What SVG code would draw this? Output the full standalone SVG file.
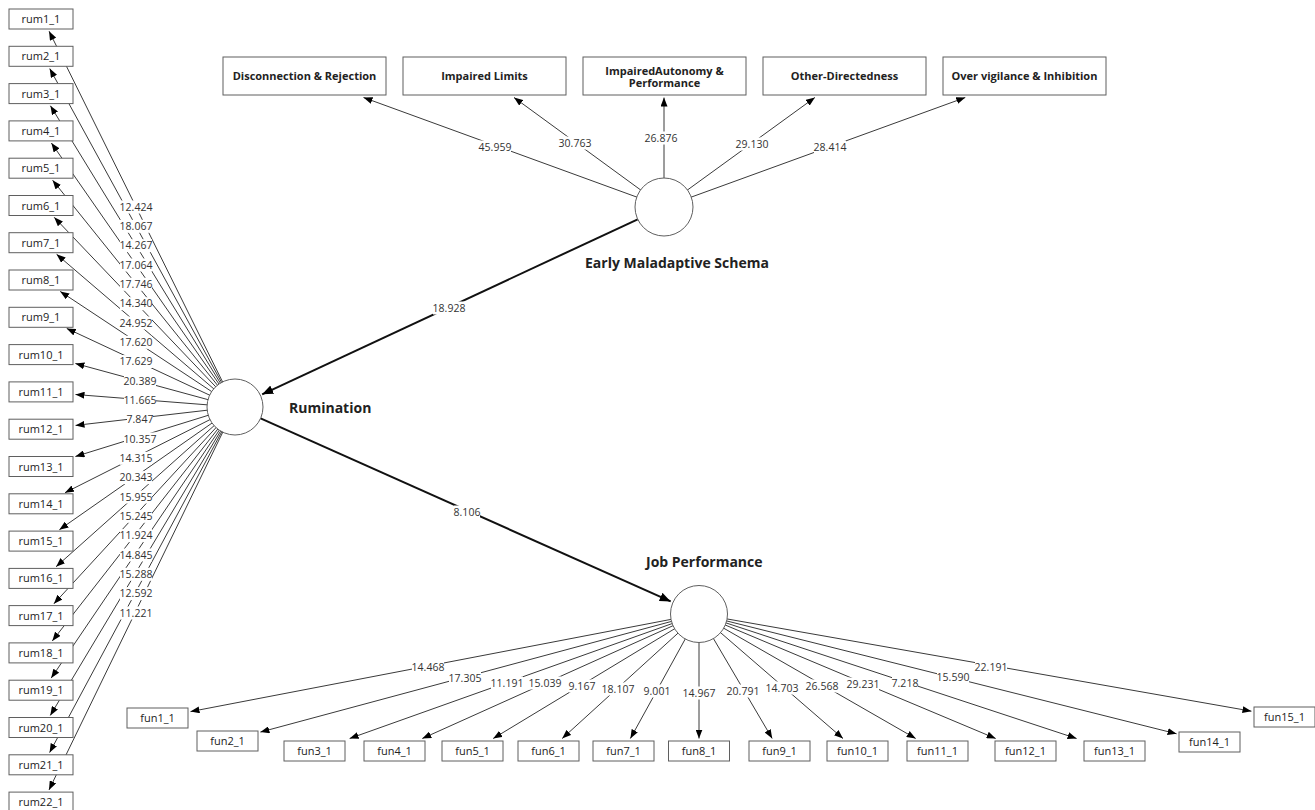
<svg xmlns="http://www.w3.org/2000/svg" width="1315" height="810" viewBox="0 0 1315 810">
<style>
text{font-family:"Open Sans","Noto Sans","DejaVu Sans",sans-serif;fill:#222}
.box{fill:#fff;stroke:#5f5f5f;stroke-width:1}
.lv{fill:#fff;stroke:#5f5f5f;stroke-width:1}
.ln{stroke:#3a3a3a;stroke-width:1;fill:none;marker-end:url(#a)}
.sp{stroke:#111;stroke-width:2;fill:none;marker-end:url(#b)}
.bg{fill:#fff}
.lb{font-size:10.5px;text-anchor:middle;fill:#333}
.t{font-size:11px;text-anchor:middle}
.tb{font-size:11px;font-weight:bold;text-anchor:middle}
.lt{font-size:14px;font-weight:bold}
</style>
<defs>
<marker id="a" markerUnits="userSpaceOnUse" markerWidth="9" markerHeight="7" refX="9" refY="3.5" orient="auto"><path d="M0,0 L9,3.5 L0,7 z" fill="#000"/></marker>
<marker id="b" markerUnits="userSpaceOnUse" markerWidth="12" markerHeight="9" refX="11" refY="4.5" orient="auto"><path d="M0,0 L11,4.5 L0,9 z" fill="#000"/></marker>
</defs>
<rect width="1315" height="810" fill="#fff"/>
<g id="connectors">
<line class="ln" x1="235" y1="407" x2="49.1" y2="31.2"/>
<line class="ln" x1="235" y1="407" x2="49.7" y2="68.5"/>
<line class="ln" x1="235" y1="407" x2="50.4" y2="105.7"/>
<line class="ln" x1="235" y1="407" x2="51.4" y2="143"/>
<line class="ln" x1="235" y1="407" x2="52.6" y2="180.2"/>
<line class="ln" x1="235" y1="407" x2="54.2" y2="217.3"/>
<line class="ln" x1="235" y1="407" x2="56.6" y2="254.3"/>
<line class="ln" x1="235" y1="407" x2="60.2" y2="291.4"/>
<line class="ln" x1="235" y1="407" x2="66.7" y2="328.4"/>
<line class="ln" x1="235" y1="407" x2="75.4" y2="363.5"/>
<line class="ln" x1="235" y1="407" x2="75.5" y2="394.5"/>
<line class="ln" x1="235" y1="407" x2="75.5" y2="425.4"/>
<line class="ln" x1="235" y1="407" x2="75.4" y2="456.5"/>
<line class="ln" x1="235" y1="407" x2="65" y2="492.7"/>
<line class="ln" x1="235" y1="407" x2="59.4" y2="529.7"/>
<line class="ln" x1="235" y1="407" x2="56.1" y2="566.7"/>
<line class="ln" x1="235" y1="407" x2="53.9" y2="603.8"/>
<line class="ln" x1="235" y1="407" x2="52.3" y2="640.9"/>
<line class="ln" x1="235" y1="407" x2="51.2" y2="678.1"/>
<line class="ln" x1="235" y1="407" x2="50.3" y2="715.4"/>
<line class="ln" x1="235" y1="407" x2="49.6" y2="752.6"/>
<line class="ln" x1="235" y1="407" x2="49" y2="789.9"/>
<line class="ln" x1="664" y1="207" x2="363.5" y2="97.5"/>
<line class="ln" x1="664" y1="207" x2="514" y2="97.5"/>
<line class="ln" x1="664" y1="207" x2="664" y2="97.5"/>
<line class="ln" x1="664" y1="207" x2="814.9" y2="97.5"/>
<line class="ln" x1="664" y1="207" x2="965.3" y2="97.5"/>
<line class="ln" x1="699" y1="614" x2="190.5" y2="711.6"/>
<line class="ln" x1="699" y1="614" x2="260.4" y2="732.1"/>
<line class="ln" x1="699" y1="614" x2="349.6" y2="738.5"/>
<line class="ln" x1="699" y1="614" x2="422.3" y2="738.5"/>
<line class="ln" x1="699" y1="614" x2="493.2" y2="738.5"/>
<line class="ln" x1="699" y1="614" x2="562.2" y2="738.5"/>
<line class="ln" x1="699" y1="614" x2="630.4" y2="738.5"/>
<line class="ln" x1="699" y1="614" x2="699" y2="738.5"/>
<line class="ln" x1="699" y1="614" x2="772.2" y2="738.5"/>
<line class="ln" x1="699" y1="614" x2="843" y2="738.5"/>
<line class="ln" x1="699" y1="614" x2="915.7" y2="738.5"/>
<line class="ln" x1="699" y1="614" x2="995.7" y2="738.5"/>
<line class="ln" x1="699" y1="614" x2="1076.6" y2="738.5"/>
<line class="ln" x1="699" y1="614" x2="1176.6" y2="733.8"/>
<line class="ln" x1="699" y1="614" x2="1251.5" y2="711.2"/>
<line class="sp" x1="637.7" y1="219.3" x2="262.2" y2="394.3"/>
<line class="sp" x1="260.6" y1="418.4" x2="670.7" y2="601.4"/>
<g id="labels">
<rect class="bg" x="120" y="200.5" width="32" height="13"/><text class="lb" x="136" y="210.7">12.424</text>
<rect class="bg" x="120" y="219.8" width="32" height="13"/><text class="lb" x="136" y="230">18.067</text>
<rect class="bg" x="120" y="239.2" width="32" height="13"/><text class="lb" x="136" y="249.4">14.267</text>
<rect class="bg" x="120" y="258.5" width="32" height="13"/><text class="lb" x="136" y="268.7">17.064</text>
<rect class="bg" x="120" y="277.8" width="32" height="13"/><text class="lb" x="136" y="288">17.746</text>
<rect class="bg" x="120" y="297.2" width="32" height="13"/><text class="lb" x="136" y="307.4">14.340</text>
<rect class="bg" x="120" y="316.5" width="32" height="13"/><text class="lb" x="136" y="326.7">24.952</text>
<rect class="bg" x="120" y="335.8" width="32" height="13"/><text class="lb" x="136" y="346">17.620</text>
<rect class="bg" x="120" y="355.1" width="32" height="13"/><text class="lb" x="136" y="365.3">17.629</text>
<rect class="bg" x="124" y="374.5" width="32" height="13"/><text class="lb" x="140" y="384.7">20.389</text>
<rect class="bg" x="124" y="393.8" width="32" height="13"/><text class="lb" x="140" y="404">11.665</text>
<rect class="bg" x="127" y="413.1" width="26" height="13"/><text class="lb" x="140" y="423.3">7.847</text>
<rect class="bg" x="124" y="432.5" width="32" height="13"/><text class="lb" x="140" y="442.7">10.357</text>
<rect class="bg" x="120" y="451.8" width="32" height="13"/><text class="lb" x="136" y="462">14.315</text>
<rect class="bg" x="120" y="471.1" width="32" height="13"/><text class="lb" x="136" y="481.3">20.343</text>
<rect class="bg" x="120" y="490.5" width="32" height="13"/><text class="lb" x="136" y="500.7">15.955</text>
<rect class="bg" x="120" y="509.8" width="32" height="13"/><text class="lb" x="136" y="520">15.245</text>
<rect class="bg" x="120" y="529.1" width="32" height="13"/><text class="lb" x="136" y="539.3">11.924</text>
<rect class="bg" x="120" y="548.5" width="32" height="13"/><text class="lb" x="136" y="558.7">14.845</text>
<rect class="bg" x="120" y="567.8" width="32" height="13"/><text class="lb" x="136" y="578">15.288</text>
<rect class="bg" x="120" y="587.1" width="32" height="13"/><text class="lb" x="136" y="597.3">12.592</text>
<rect class="bg" x="120" y="606.5" width="32" height="13"/><text class="lb" x="136" y="616.7">11.221</text>
<rect class="bg" x="479" y="140.5" width="32" height="13"/><text class="lb" x="495" y="150.7">45.959</text>
<rect class="bg" x="559" y="136.5" width="32" height="13"/><text class="lb" x="575" y="146.7">30.763</text>
<rect class="bg" x="645" y="131.5" width="32" height="13"/><text class="lb" x="661" y="141.7">26.876</text>
<rect class="bg" x="736" y="137.5" width="32" height="13"/><text class="lb" x="752" y="147.7">29.130</text>
<rect class="bg" x="814" y="140.5" width="32" height="13"/><text class="lb" x="830" y="150.7">28.414</text>
<rect class="bg" x="433" y="301.5" width="32" height="13"/><text class="lb" x="449" y="311.7">18.928</text>
<rect class="bg" x="454" y="505.5" width="26" height="13"/><text class="lb" x="467" y="515.7">8.106</text>
<rect class="bg" x="412" y="660.5" width="32" height="13"/><text class="lb" x="428" y="670.7">14.468</text>
<rect class="bg" x="449" y="671.5" width="32" height="13"/><text class="lb" x="465" y="681.7">17.305</text>
<rect class="bg" x="491" y="676.5" width="32" height="13"/><text class="lb" x="507" y="686.7">11.191</text>
<rect class="bg" x="529" y="676.5" width="32" height="13"/><text class="lb" x="545" y="686.7">15.039</text>
<rect class="bg" x="569" y="679.5" width="26" height="13"/><text class="lb" x="582" y="689.7">9.167</text>
<rect class="bg" x="602" y="682.5" width="32" height="13"/><text class="lb" x="618" y="692.7">18.107</text>
<rect class="bg" x="644" y="684.5" width="26" height="13"/><text class="lb" x="657" y="694.7">9.001</text>
<rect class="bg" x="683" y="686.5" width="32" height="13"/><text class="lb" x="699" y="696.7">14.967</text>
<rect class="bg" x="727" y="684.5" width="32" height="13"/><text class="lb" x="743" y="694.7">20.791</text>
<rect class="bg" x="766" y="681.5" width="32" height="13"/><text class="lb" x="782" y="691.7">14.703</text>
<rect class="bg" x="806" y="679.5" width="32" height="13"/><text class="lb" x="822" y="689.7">26.568</text>
<rect class="bg" x="847" y="677.5" width="32" height="13"/><text class="lb" x="863" y="687.7">29.231</text>
<rect class="bg" x="892" y="676.5" width="26" height="13"/><text class="lb" x="905" y="686.7">7.218</text>
<rect class="bg" x="937" y="670.5" width="32" height="13"/><text class="lb" x="953" y="680.7">15.590</text>
<rect class="bg" x="975" y="660.5" width="32" height="13"/><text class="lb" x="991" y="670.7">22.191</text>
</g>
</g>
<g id="EMS"><circle class="lv" cx="664" cy="207" r="29"/><text class="lt" x="585" y="268">Early Maladaptive Schema</text></g>
<g id="Rumination"><circle class="lv" cx="235" cy="407" r="28"/><text class="lt" x="289" y="413">Rumination</text></g>
<g id="JobPerformance"><circle class="lv" cx="699" cy="614" r="28.5"/><text class="lt" x="646" y="567">Job Performance</text></g>
<g id="DR"><rect class="box" x="223" y="57" width="163" height="38"/><text class="tb" x="304.5" y="80">Disconnection &amp; Rejection</text></g>
<g id="IL"><rect class="box" x="403" y="57" width="163" height="38"/><text class="tb" x="484.5" y="80">Impaired Limits</text></g>
<g id="IAP"><rect class="box" x="583" y="57" width="163" height="38"/><text class="tb" x="664.5" y="74.5">ImpairedAutonomy &amp;</text><text class="tb" x="664.5" y="87">Performance</text></g>
<g id="OD"><rect class="box" x="763" y="57" width="163" height="38"/><text class="tb" x="844.5" y="80">Other-Directedness</text></g>
<g id="OVI"><rect class="box" x="943" y="57" width="163" height="38"/><text class="tb" x="1024.5" y="80">Over vigilance &amp; Inhibition</text></g>
<g id="rum1_1"><rect class="box" x="9" y="9" width="64" height="20"/><text class="t" x="41" y="23">rum1_1</text></g>
<g id="rum2_1"><rect class="box" x="9" y="46.3" width="64" height="20"/><text class="t" x="41" y="60.3">rum2_1</text></g>
<g id="rum3_1"><rect class="box" x="9" y="83.6" width="64" height="20"/><text class="t" x="41" y="97.6">rum3_1</text></g>
<g id="rum4_1"><rect class="box" x="9" y="120.9" width="64" height="20"/><text class="t" x="41" y="134.9">rum4_1</text></g>
<g id="rum5_1"><rect class="box" x="9" y="158.2" width="64" height="20"/><text class="t" x="41" y="172.2">rum5_1</text></g>
<g id="rum6_1"><rect class="box" x="9" y="195.5" width="64" height="20"/><text class="t" x="41" y="209.5">rum6_1</text></g>
<g id="rum7_1"><rect class="box" x="9" y="232.7" width="64" height="20"/><text class="t" x="41" y="246.7">rum7_1</text></g>
<g id="rum8_1"><rect class="box" x="9" y="270" width="64" height="20"/><text class="t" x="41" y="284">rum8_1</text></g>
<g id="rum9_1"><rect class="box" x="9" y="307.3" width="64" height="20"/><text class="t" x="41" y="321.3">rum9_1</text></g>
<g id="rum10_1"><rect class="box" x="9" y="344.6" width="64" height="20"/><text class="t" x="41" y="358.6">rum10_1</text></g>
<g id="rum11_1"><rect class="box" x="9" y="381.9" width="64" height="20"/><text class="t" x="41" y="395.9">rum11_1</text></g>
<g id="rum12_1"><rect class="box" x="9" y="419.2" width="64" height="20"/><text class="t" x="41" y="433.2">rum12_1</text></g>
<g id="rum13_1"><rect class="box" x="9" y="456.5" width="64" height="20"/><text class="t" x="41" y="470.5">rum13_1</text></g>
<g id="rum14_1"><rect class="box" x="9" y="493.8" width="64" height="20"/><text class="t" x="41" y="507.8">rum14_1</text></g>
<g id="rum15_1"><rect class="box" x="9" y="531.1" width="64" height="20"/><text class="t" x="41" y="545.1">rum15_1</text></g>
<g id="rum16_1"><rect class="box" x="9" y="568.4" width="64" height="20"/><text class="t" x="41" y="582.4">rum16_1</text></g>
<g id="rum17_1"><rect class="box" x="9" y="605.6" width="64" height="20"/><text class="t" x="41" y="619.6">rum17_1</text></g>
<g id="rum18_1"><rect class="box" x="9" y="642.9" width="64" height="20"/><text class="t" x="41" y="656.9">rum18_1</text></g>
<g id="rum19_1"><rect class="box" x="9" y="680.2" width="64" height="20"/><text class="t" x="41" y="694.2">rum19_1</text></g>
<g id="rum20_1"><rect class="box" x="9" y="717.5" width="64" height="20"/><text class="t" x="41" y="731.5">rum20_1</text></g>
<g id="rum21_1"><rect class="box" x="9" y="754.8" width="64" height="20"/><text class="t" x="41" y="768.8">rum21_1</text></g>
<g id="rum22_1"><rect class="box" x="9" y="792.1" width="64" height="20"/><text class="t" x="41" y="806.1">rum22_1</text></g>
<g id="fun1_1"><rect class="box" x="127" y="708" width="61" height="20"/><text class="t" x="157.5" y="722">fun1_1</text></g>
<g id="fun2_1"><rect class="box" x="197" y="731" width="61" height="20"/><text class="t" x="227.5" y="745">fun2_1</text></g>
<g id="fun3_1"><rect class="box" x="284" y="741" width="61" height="20"/><text class="t" x="314.5" y="755">fun3_1</text></g>
<g id="fun4_1"><rect class="box" x="364" y="741" width="61" height="20"/><text class="t" x="394.5" y="755">fun4_1</text></g>
<g id="fun5_1"><rect class="box" x="442" y="741" width="61" height="20"/><text class="t" x="472.5" y="755">fun5_1</text></g>
<g id="fun6_1"><rect class="box" x="518" y="741" width="61" height="20"/><text class="t" x="548.5" y="755">fun6_1</text></g>
<g id="fun7_1"><rect class="box" x="593" y="741" width="61" height="20"/><text class="t" x="623.5" y="755">fun7_1</text></g>
<g id="fun8_1"><rect class="box" x="668.5" y="741" width="61" height="20"/><text class="t" x="699" y="755">fun8_1</text></g>
<g id="fun9_1"><rect class="box" x="749" y="741" width="61" height="20"/><text class="t" x="779.5" y="755">fun9_1</text></g>
<g id="fun10_1"><rect class="box" x="827" y="741" width="61" height="20"/><text class="t" x="857.5" y="755">fun10_1</text></g>
<g id="fun11_1"><rect class="box" x="907" y="741" width="61" height="20"/><text class="t" x="937.5" y="755">fun11_1</text></g>
<g id="fun12_1"><rect class="box" x="995" y="741" width="61" height="20"/><text class="t" x="1025.5" y="755">fun12_1</text></g>
<g id="fun13_1"><rect class="box" x="1084" y="741" width="61" height="20"/><text class="t" x="1114.5" y="755">fun13_1</text></g>
<g id="fun14_1"><rect class="box" x="1179" y="732" width="61" height="20"/><text class="t" x="1209.5" y="746">fun14_1</text></g>
<g id="fun15_1"><rect class="box" x="1254" y="707" width="61" height="20"/><text class="t" x="1284.5" y="721">fun15_1</text></g>
</svg>
